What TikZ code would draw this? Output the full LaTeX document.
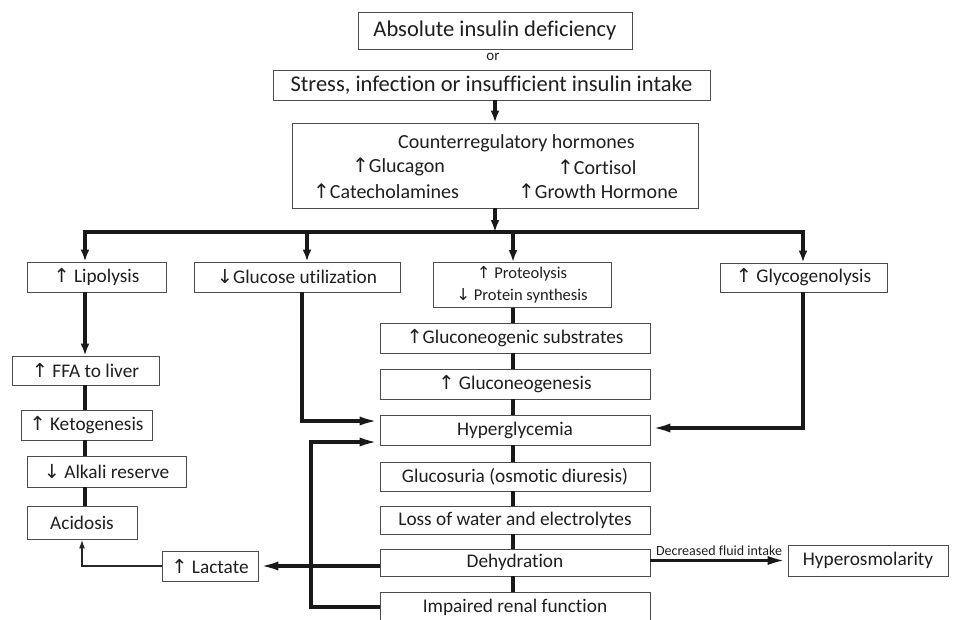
\documentclass[tikz,border=0pt]{standalone}
\usepackage{fontspec}
\setmainfont{Carlito}[Ligatures=NoCommon]
\newfontfamily\arrfont{DejaVu Sans}[Scale=1.0]
\usetikzlibrary{arrows.meta,calc}
\newcommand\myBig{\fontsize{22.5}{26}\selectfont}
\newcommand\myHorm{\fontsize{20}{23}\selectfont}
\newcommand\myMain{\fontsize{19.3}{22}\selectfont}
\newcommand\myProt{\fontsize{16.5}{22.5}\selectfont}
\newcommand\myOr{\fontsize{15}{17}\selectfont}
\newcommand\myLab{\fontsize{14}{15}\selectfont}
\newcommand\up{{\arrfont ↑}}
\newcommand\dn{{\arrfont ↓}}
\begin{document}
\begin{tikzpicture}[x=1pt,y=-1pt,
  box/.style={draw=black!70, line width=0.9pt, fill=white, inner sep=0pt, text=black!88, font=\myMain},
  txt/.style={inner sep=0pt, text=black!88},
  link/.style={line width=3.6pt, draw=black!90},
  tip/.style={-{Latex[length=12pt,width=9pt]}},
  longtip/.style={-{Latex[length=20pt,width=9pt]}},
  thinlink/.style={line width=1.6pt, draw=black!85, -{Latex[length=9pt,width=6pt]}}]
\useasboundingbox (0,0) rectangle (953,619);
\fill[white] (0,0) rectangle (953,619);

% top
\node[box, font=\myBig, minimum width=274pt, minimum height=37pt] (A) at (495,30.5) {Absolute insulin deficiency};
\node[txt, font=\myOr] (or) at (493,57) {or};
\node[box, font=\myBig, minimum width=437pt, minimum height=30pt] (B) at (491.5,85) {Stress, infection or insufficient insulin intake};
\node[box, minimum width=406pt, minimum height=85pt] (C) at (495,165.5) {};
\node[txt, font=\myHorm, anchor=west] (c1) at (398,143) {Counterregulatory hormones};
\node[txt, font=\myHorm, anchor=west] (c2) at (352,167) {\up Glucagon};
\node[txt, font=\myHorm, anchor=west] (c3) at (557,167) {\up Cortisol};
\node[txt, font=\myHorm, anchor=west] (c4) at (313,191) {\up Catecholamines};
\node[txt, font=\myHorm, anchor=west] (c5) at (518,191) {\up Growth Hormone};

% second row
\node[box, minimum width=139pt, minimum height=30pt] (Lipo) at (96.5,277) {\up\ Lipolysis};
\node[box, minimum width=206pt, minimum height=30pt] (Gutil) at (297,277) {\dn Glucose utilization};
\node[box, font=\myProt, minimum width=178pt, minimum height=45pt, align=center] (Prot) at (522,285) {\up\ Proteolysis\\\dn\ Protein synthesis};
\node[box, minimum width=167pt, minimum height=29pt] (Glyco) at (803.5,277.5) {\up\ Glycogenolysis};

% left column
\node[box, minimum width=147pt, minimum height=29pt] (FFA) at (85.5,370.5) {\up\ FFA to liver};
\node[box, minimum width=131pt, minimum height=30pt] (Keto) at (86.5,425) {\up\ Ketogenesis};
\node[box, minimum width=159pt, minimum height=31pt] (Alk) at (106.5,471.5) {\dn\ Alkali reserve};
\node[box, minimum width=110pt, minimum height=33pt] (Acid) at (82,522.5) {Acidosis};
\node[box, minimum width=96pt, minimum height=30pt] (Lact) at (210,566) {\up\ Lactate};

% centre column
\node[box, minimum width=270pt, minimum height=30pt] (Subst) at (515,338) {\up Gluconeogenic substrates};
\node[box, minimum width=270pt, minimum height=30pt] (Gneo) at (515,384) {\up\ Gluconeogenesis};
\node[box, minimum width=270pt, minimum height=30pt] (Hyper) at (515,430) {Hyperglycemia};
\node[box, minimum width=270pt, minimum height=29pt] (Gsur) at (515,476.5) {Glucosuria (osmotic diuresis)};
\node[box, minimum width=270pt, minimum height=28pt] (Loss) at (515,520) {Loss of water and electrolytes};
\node[box, minimum width=270pt, minimum height=27pt] (Dehy) at (515,562.5) {Dehydration};
\node[box, minimum width=270pt, minimum height=30pt] (Renal) at (515,607) {Impaired renal function};
\node[box, minimum width=160pt, minimum height=31pt] (Osm) at (868,560.5) {Hyperosmolarity};

% coordinates
\coordinate (bus) at (495,232);
\coordinate (b1) at (85,232);
\coordinate (b2) at (307,232);
\coordinate (b3) at (513,232);
\coordinate (b4) at (803,232);
\coordinate (cx) at (513,0);
\coordinate (g1) at (302,421);
\coordinate (r1) at (311,442);
\coordinate (k1) at (803,428);
\coordinate (l1) at (82,566);

% connectors top
\draw[link, tip] (B.south -| C.north) -- (C.north);
\draw[link, tip] (C.south) -- (bus);
\draw[link, line cap=rect] (b1) -- (b4);
\draw[link, tip] (b1) -- (b1 |- Lipo.north);
\draw[link, tip] (b2) -- (b2 |- Gutil.north);
\draw[link, tip] (b3) -- (b3 |- Prot.north);
\draw[link, tip] (b4) -- (b4 |- Glyco.north);

% left column
\draw[link, tip] (Lipo.south -| b1) -- (FFA.north -| b1);
\draw[link] (FFA.south -| b1) -- (Keto.north -| b1);
\draw[link] (Keto.south -| b1) -- (Alk.north -| b1);
\draw[link] (Alk.south -| b1) -- (Acid.north -| b1);
\draw[thinlink] (Lact.west) -- (l1) -- (Acid.south -| l1);

% centre column
\draw[link] (Prot.south -| cx) -- (Subst.north -| cx);
\draw[link] (Subst.south -| cx) -- (Gneo.north -| cx);
\draw[link] (Gneo.south -| cx) -- (Hyper.north -| cx);
\draw[link] (Hyper.south -| cx) -- (Gsur.north -| cx);
\draw[link] (Gsur.south -| cx) -- (Loss.north -| cx);
\draw[link] (Loss.south -| cx) -- (Dehy.north -| cx);
\draw[link] (Dehy.south -| cx) -- (Renal.north -| cx);

% feeds into hyperglycemia
\draw[link, longtip] (Gutil.south -| g1) -- (g1) -- (Hyper.west |- g1);
\draw[link, longtip] (Renal.west) -- (r1 |- Renal.west) -- (r1) -- (Hyper.west |- r1);
\draw[link, longtip] (Glyco.south -| k1) -- (k1) -- (Hyper.east |- k1);

% dehydration outputs
\draw[link, longtip] (Dehy.west |- Lact.east) -- (Lact.east);
\draw[link, longtip] (Dehy.east |- Osm.west) -- (Osm.west)
  node[midway, above=3pt, txt, font=\myLab] (lab) {Decreased fluid intake};
\end{tikzpicture}
\end{document}
